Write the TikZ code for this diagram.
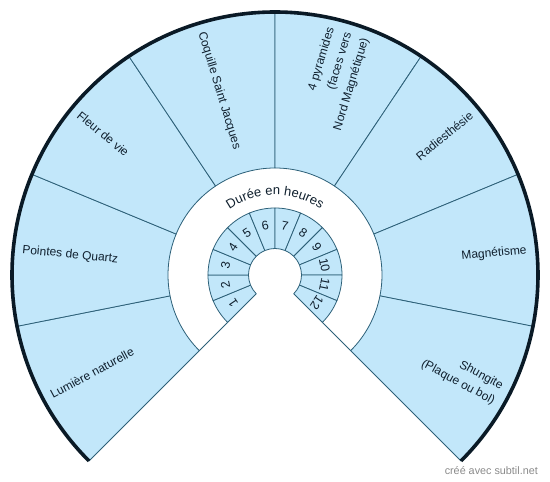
\documentclass[tikz,border=0pt]{standalone}
\usepackage{fontspec}
\setmainfont{Liberation Sans}
\usetikzlibrary{decorations.text}
\definecolor{fillblue}{HTML}{C2E7FA}
\definecolor{edge}{HTML}{2D6078}
\definecolor{rim}{HTML}{0A1A26}
\definecolor{ink}{HTML}{10202E}
\definecolor{wm}{HTML}{8A8A8A}
\tikzset{
  seg/.style={fill=fillblue, draw=edge, line width=0.8pt, line join=round},
  lbl/.style={text=ink, font=\fontsize{12}{17}\selectfont, inner sep=0pt},
  hr/.style={text=ink, font=\fontsize{12.5}{14}\selectfont, inner sep=0pt},
  rimline/.style={draw=rim, line width=3.6pt},
  sep/.style={draw=edge, line width=0.8pt},
}
\begin{document}
\begin{tikzpicture}[x=1pt,y=1pt]
\useasboundingbox (0,0) rectangle (550,482);
\begin{scope}[shift={(275,207)}]
  \def\Ro{263}\def\Rm{107}\def\Rh{67}\def\Ri{26.5}
  % outer ring
  \foreach \k in {0,...,7}{
    \pgfmathsetmacro\a{225-33.75*\k}
    \pgfmathsetmacro\b{\a-33.75}
    \path[seg] (\a:\Rm) -- (\a:\Ro) arc[start angle=\a, end angle=\b, radius=\Ro]
      -- (\b:\Rm) arc[start angle=\b, end angle=\a, radius=\Rm] -- cycle;
  }
  % hour ring
  \foreach \k in {0,...,11}{
    \pgfmathsetmacro\a{225-22.5*\k}
    \pgfmathsetmacro\b{\a-22.5}
    \path[seg] (\a:\Ri) -- (\a:\Rh) arc[start angle=\a, end angle=\b, radius=\Rh]
      -- (\b:\Ri) arc[start angle=\b, end angle=\a, radius=\Ri] -- cycle;
  }
  % radial edges across the white ring
  \path[sep] (225:\Rh) -- (225:\Rm);
  \path[sep] (-45:\Rh) -- (-45:\Rm);
  % thick rim
  \path[rimline] (225:\Ro) arc[start angle=225, end angle=-45, radius=\Ro];
  % ring title
  \path[decorate, decoration={text along path, text align=center,
      text={|\fontsize{13}{15}\selectfont\color{ink}|Durée en heures}}]
    (140:80) arc[start angle=140, end angle=40, radius=80];
  % outer labels (left side, reading inward)
  \node[lbl, anchor=west, rotate=28.125]  (l1) at (208.125:254) {Lumière naturelle};
  \node[lbl, anchor=west, rotate=-5.625]  (l2) at (174.375:254) {Pointes de Quartz};
  \node[lbl, anchor=west, rotate=-39.375] (l3) at (140.625:254) {Fleur de vie};
  \node[lbl, anchor=west, rotate=-73.125] (l4) at (106.875:254) {Coquille Saint Jacques};
  % outer labels (right side, reading outward)
  \node[lbl, anchor=east, rotate=73.125, align=right, font=\fontsize{12}{18}\selectfont] (l5) at (73.125:253)
    {4 pyramides\\(faces vers\\Nord Magnétique)};
  \node[lbl, anchor=east, rotate=39.375]  (l6) at (39.375:254) {Radiesthésie};
  \node[lbl, anchor=east, rotate=5.625]   (l7) at (5.625:253) {Magnétisme};
  \node[lbl, anchor=east, rotate=-28.125, align=right] (l8) at (-28.125:253)
    {Shungite\\(Plaque ou bol)};
  % hour labels
  \foreach \k in {1,...,12}{
    \pgfmathsetmacro\m{236.25-22.5*\k}
    \node[hr, rotate=\m-90] (h\k) at (\m:50.5) {\k};
  }
\end{scope}
\node[anchor=base east, text=wm, font=\fontsize{10.8}{12}\selectfont, inner sep=0pt] (wmk) at (538,7) {créé avec subtil.net};
\end{tikzpicture}
\end{document}
